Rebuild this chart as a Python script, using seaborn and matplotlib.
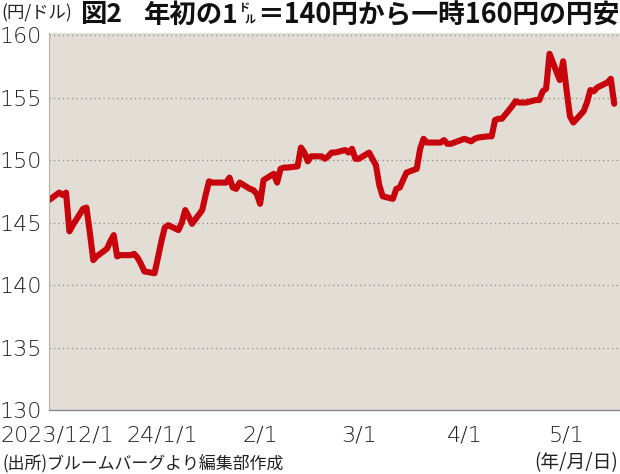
import pandas as pd
import matplotlib
matplotlib.use("Agg")
import matplotlib.pyplot as plt
import matplotlib.transforms as mtransforms
import seaborn as sns

# daily USD/JPY (yen per dollar)
dates = [
    "2023-12-01", "2023-12-04", "2023-12-05", "2023-12-06", "2023-12-07", "2023-12-08",
    "2023-12-11", "2023-12-12", "2023-12-13", "2023-12-14", "2023-12-15", "2023-12-18",
    "2023-12-19", "2023-12-20", "2023-12-21", "2023-12-22", "2023-12-25", "2023-12-26",
    "2023-12-27", "2023-12-28", "2023-12-29", "2024-01-01", "2024-01-02", "2024-01-03",
    "2024-01-04", "2024-01-05", "2024-01-08", "2024-01-09", "2024-01-10", "2024-01-11",
    "2024-01-12", "2024-01-15", "2024-01-16", "2024-01-17", "2024-01-18", "2024-01-19",
    "2024-01-22", "2024-01-23", "2024-01-24", "2024-01-25", "2024-01-26", "2024-01-29",
    "2024-01-30", "2024-01-31", "2024-02-01", "2024-02-02", "2024-02-05", "2024-02-06",
    "2024-02-07", "2024-02-08", "2024-02-09", "2024-02-12", "2024-02-13", "2024-02-14",
    "2024-02-15", "2024-02-16", "2024-02-19", "2024-02-20", "2024-02-21", "2024-02-22",
    "2024-02-23", "2024-02-26", "2024-02-27", "2024-02-28", "2024-02-29", "2024-03-01",
    "2024-03-04", "2024-03-05", "2024-03-06", "2024-03-07", "2024-03-08", "2024-03-11",
    "2024-03-12", "2024-03-13", "2024-03-14", "2024-03-15", "2024-03-18", "2024-03-19",
    "2024-03-20", "2024-03-21", "2024-03-22", "2024-03-25", "2024-03-26", "2024-03-27",
    "2024-03-28", "2024-03-29", "2024-04-01", "2024-04-02", "2024-04-03", "2024-04-04",
    "2024-04-05", "2024-04-08", "2024-04-09", "2024-04-10", "2024-04-11", "2024-04-12",
    "2024-04-15", "2024-04-16", "2024-04-17", "2024-04-18", "2024-04-19", "2024-04-22",
    "2024-04-23", "2024-04-24", "2024-04-25", "2024-04-26", "2024-04-29", "2024-04-30",
    "2024-05-01", "2024-05-02", "2024-05-03", "2024-05-06", "2024-05-07", "2024-05-08",
    "2024-05-09", "2024-05-10", "2024-05-13", "2024-05-14", "2024-05-15",
]
rates = [
    146.8, 147.4, 147.2, 147.4, 144.3, 144.8,
    146.1, 146.2, 144.2, 142.0, 142.3, 142.9,
    143.5, 144.0, 142.3, 142.4, 142.4, 142.5,
    142.2, 141.7, 141.1, 140.95, 142.2, 143.5,
    144.6, 144.8, 144.4, 145.0, 146.0, 145.5,
    144.9, 146.0, 147.2, 148.3, 148.2, 148.2,
    148.2, 148.6, 147.8, 147.7, 148.2, 147.7,
    147.6, 147.3, 146.5, 148.4, 148.9, 148.2,
    149.3, 149.4, 149.4, 149.5, 151.0, 150.6,
    149.9, 150.3, 150.3, 150.1, 150.3, 150.6,
    150.6, 150.8, 150.6, 150.9, 150.1, 150.1,
    150.6, 150.1, 149.6, 148.0, 147.1, 146.9,
    147.7, 147.8, 148.4, 149.0, 149.3, 150.9,
    151.7, 151.4, 151.4, 151.4, 151.6, 151.3,
    151.3, 151.4, 151.7, 151.6, 151.5, 151.7,
    151.8, 151.9, 151.9, 153.2, 153.3, 153.3,
    154.3, 154.7, 154.6, 154.6, 154.6, 154.8,
    154.8, 155.5, 155.7, 158.5, 156.4, 157.9,
    155.6, 153.5, 153.0, 153.9, 154.6, 155.6,
    155.5, 155.8, 156.2, 156.5, 154.5,
]

tick_dates = ["2023-12-01", "2024-01-01", "2024-02-01", "2024-03-01", "2024-04-01", "2024-05-01"]
tick_labels = ["2023/12/1", "24/1/1", "2/1", "3/1", "4/1", "5/1"]
y_ticks = [130, 135, 140, 145, 150, 155, 160]

title_unit = "(円/ドル)"
title_parts = ["図2", "年初の1", "＝140円から一時160円の円安"]
source_note = "(出所)ブルームバーグより編集部作成"
date_note = "(年/月/日)"

sns.set_theme(style="white")
plt.rcParams["font.family"] = ["Noto Sans CJK JP", "DejaVu Sans"]

W, H = 620, 474
fig = plt.figure(figsize=(W / 100, H / 100), dpi=100)
fig.patch.set_facecolor("white")
ax = fig.add_axes([49 / W, (H - 410.2) / H, 571 / W, 377.2 / H])
ax.set_facecolor("#e2ded5")

df = pd.DataFrame({"date": pd.to_datetime(dates), "rate": rates})
sns.lineplot(data=df, x="date", y="rate", ax=ax, color="#c8050c", linewidth=4.4)

start = pd.Timestamp("2023-12-01")
ax.set_xlim(start, start + pd.Timedelta(days=167.7))
ax.set_ylim(130, 160.16)
ax.set_xlabel("")
ax.set_ylabel("")

tick_font = dict(family="DejaVu Sans", weight="light", size=16, color="#222222")
ax.set_yticks(y_ticks)
ax.set_yticklabels([str(v) for v in y_ticks], **tick_font)
ax.set_xticks(pd.to_datetime(tick_dates))
xlabels = ax.set_xticklabels(tick_labels, **tick_font)
for v in y_ticks[1:]:
    ax.axhline(v, color="#8c8c8c", linewidth=0.9, linestyle=(0, (1, 2.6)), zorder=1)

ax.tick_params(axis="y", length=0, pad=5)
ax.tick_params(axis="x", direction="in", length=5, width=0.8, color="#888888", pad=11)

# first two date labels are nudged apart, as in the original
xlabels[0].set_horizontalalignment("left")
xlabels[0].set_transform(xlabels[0].get_transform()
                         + mtransforms.ScaledTranslation(-48 / 100, 0, fig.dpi_scale_trans))
xlabels[1].set_transform(xlabels[1].get_transform()
                         + mtransforms.ScaledTranslation(8 / 100, 0, fig.dpi_scale_trans))

for side in ["top", "right"]:
    ax.spines[side].set_visible(False)
ax.spines["left"].set_color("#b5b1a8")
ax.spines["left"].set_linewidth(0.8)
ax.spines["bottom"].set_color("#8a8a8a")
ax.spines["bottom"].set_linewidth(1.0)

# title, built piece by piece because of the small stacked "ドル"
fig.text(1 / W, 1 - 13 / H, title_unit, fontsize=12.5, va="center", ha="left", color="#222222")
fig.canvas.draw()
renderer = fig.canvas.get_renderer()

def put(x_px, text, size, y_px, weight="bold"):
    t = fig.text(x_px / W, 1 - y_px / H, text, fontsize=size, fontweight=weight,
                 va="center", ha="left", color="#111111")
    return t.get_window_extent(renderer).x1

x = put(80, title_parts[0], 19, 15)
x = put(x + 22, title_parts[1], 19, 15)
put(x + 0.5, "ド", 8, 8)
x2 = put(x + 6, "ル", 8, 20)
put(x2 + 1, title_parts[2], 19.3, 15)

fig.text(3 / W, 1 - 463 / H, source_note, fontsize=12.2, va="center", ha="left", color="#222222")
fig.text(618 / W, 1 - 463 / H, date_note, fontsize=13.5, va="center", ha="right", color="#222222")

fig.savefig("out.png", dpi=100)
